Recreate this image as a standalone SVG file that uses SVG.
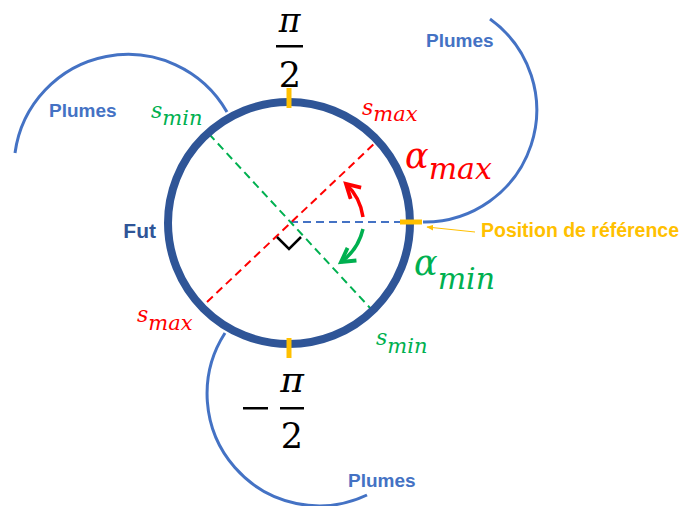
<svg xmlns="http://www.w3.org/2000/svg" width="683" height="506" viewBox="0 0 683 506">
<style>
.plume{fill:none;stroke:#4472C4;stroke-width:3}
.lbl{font-family:"Liberation Sans",Arial,sans-serif;font-weight:bold}
.pl{fill:#4472C4;font-size:19px}
.math{font-family:"DejaVu Serif","Liberation Serif",serif;font-style:italic}
.red{fill:#FF0000}
.green{fill:#00B050}
.blk{fill:#000;font-family:"DejaVu Serif","Liberation Serif",serif}
.dash{fill:none;stroke-width:2;stroke-dasharray:8 5}
.tick{stroke:#FFC000;stroke-width:5}
</style>
<defs>
<marker id="arrR" viewBox="0 0 10 10" refX="8" refY="5" markerWidth="5.5" markerHeight="5.5" orient="auto" markerUnits="strokeWidth">
<path d="M1,1 L8,5 L1,9" fill="none" stroke="#FF0000" stroke-width="2"/>
</marker>
<marker id="arrG" viewBox="0 0 10 10" refX="8" refY="5" markerWidth="5.5" markerHeight="5.5" orient="auto" markerUnits="strokeWidth">
<path d="M1,1 L8,5 L1,9" fill="none" stroke="#00B050" stroke-width="2"/>
</marker>
<marker id="arrY" viewBox="0 0 10 10" refX="9" refY="5" markerWidth="7" markerHeight="7" orient="auto" markerUnits="strokeWidth">
<path d="M0,1 L10,5 L0,9 z" fill="#FFC000"/>
</marker>
</defs>

<g id="plumes">
<path id="plume-right" class="plume" d="M423,222 A112,112 0 0 0 490,19"/>
<path id="plume-topleft" class="plume" d="M227,112 A114,114 0 0 0 15,153"/>
<path id="plume-bottom" class="plume" d="M225,333 A112,112 0 0 0 367,495"/>
</g>

<g id="connectors">
<line class="dash" stroke="#4472C4" x1="290" y1="222" x2="400" y2="222"/>
<line class="dash" stroke="#FF0000" x1="207" y1="302" x2="376" y2="142"/>
<line class="dash" stroke="#00B050" x1="209" y1="134" x2="371" y2="309"/>
<polyline points="277,237 289,249 301,237" fill="none" stroke="#000" stroke-width="2.5"/>
<path d="M363,217 Q360,197 346,184" fill="none" stroke="#FF0000" stroke-width="3.5" marker-end="url(#arrR)"/>
<path d="M363,229 Q358,250 341,262" fill="none" stroke="#00B050" stroke-width="3.5" marker-end="url(#arrG)"/>
<line x1="475" y1="232" x2="427" y2="227" stroke="#FFC000" stroke-width="1" marker-end="url(#arrY)"/>
</g>

<g id="fut">
<circle cx="289" cy="223" r="121" fill="none" stroke="#2F5597" stroke-width="8"/>
<text class="lbl" x="156" y="238" font-size="21" fill="#2F5597" text-anchor="end">Fut</text>
</g>

<g id="ticks">
<line class="tick" x1="289" y1="88" x2="289" y2="108"/>
<line class="tick" x1="289" y1="338" x2="289" y2="358"/>
<line class="tick" x1="400" y1="222" x2="422" y2="222"/>
</g>

<g id="labels-plumes">
<text class="lbl pl" x="49" y="117">Plumes</text>
<text class="lbl pl" x="426" y="47">Plumes</text>
<text class="lbl pl" x="348" y="487">Plumes</text>
</g>

<g id="label-ref">
<text class="lbl" x="481" y="237" font-size="20" fill="#FFC000" textLength="198" lengthAdjust="spacingAndGlyphs">Position de référence</text>
</g>

<g id="label-pi2">
<text class="blk math" x="289.5" y="32" font-size="33" text-anchor="middle">π</text>
<rect x="276" y="45" width="27" height="2.5" fill="#000"/>
<text class="blk" x="290" y="87" font-size="35" text-anchor="middle">2</text>
</g>

<g id="label-mpi2">
<rect x="243" y="407" width="25" height="2.5" fill="#000"/>
<text class="blk math" x="292" y="392" font-size="36" text-anchor="middle">π</text>
<rect x="280" y="407" width="24" height="2.5" fill="#000"/>
<text class="blk" x="292" y="448" font-size="35" text-anchor="middle">2</text>
</g>

<g id="label-smax-top" class="math red">
<text x="362" y="115" font-size="22">s<tspan font-size="21" dy="6">max</tspan></text>
</g>
<g id="label-smin-top" class="math green">
<text x="151" y="118" font-size="22">s<tspan font-size="21" dy="7">min</tspan></text>
</g>
<g id="label-smax-bot" class="math red">
<text x="137" y="322" font-size="22">s<tspan font-size="21" dy="8">max</tspan></text>
</g>
<g id="label-smin-bot" class="math green">
<text x="376" y="345" font-size="22">s<tspan font-size="21" dy="8">min</tspan></text>
</g>
<g id="label-amax" class="math red">
<text x="405" y="168" font-size="35">α<tspan font-size="30" dy="11">max</tspan></text>
</g>
<g id="label-amin" class="math green">
<text x="414" y="275" font-size="35">α<tspan font-size="30" dy="14">min</tspan></text>
</g>
</svg>
